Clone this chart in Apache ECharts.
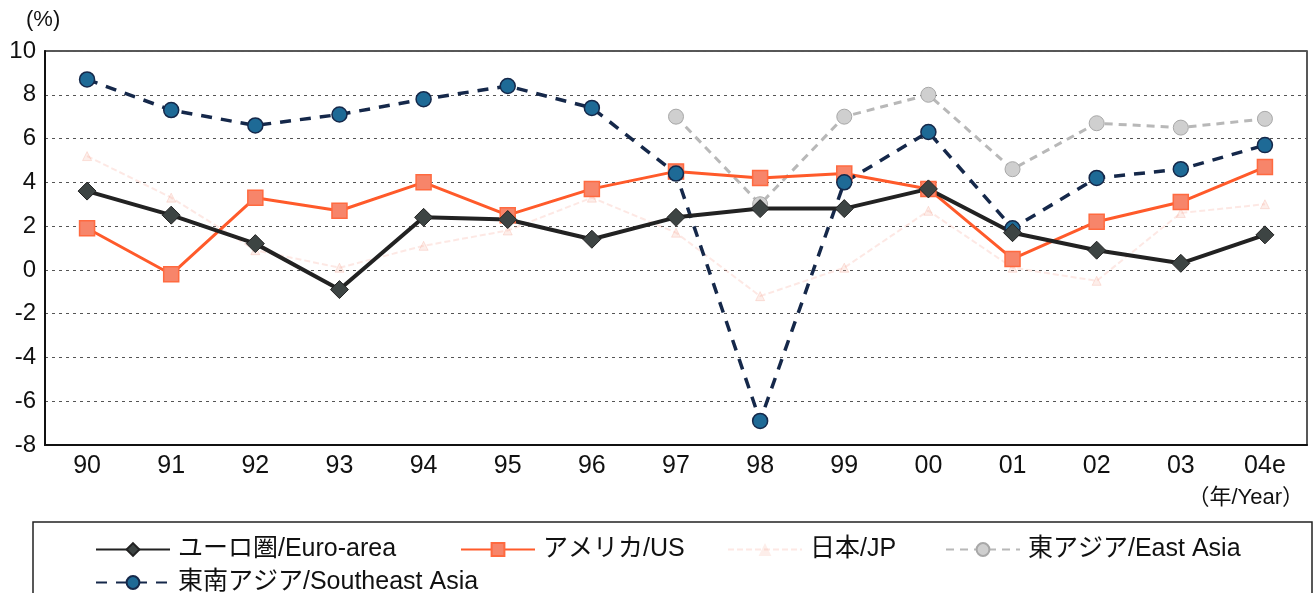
<!DOCTYPE html>
<html>
<head>
<meta charset="utf-8">
<script src="https://cdn.jsdelivr.net/npm/echarts@6/dist/echarts.min.js"></script>
<style>
html,body{margin:0;padding:0;background:#fff;}
#chart{width:1316px;height:593px;}
</style>
</head>
<body>
<div id="chart"></div>
<script>
var years = ['90','91','92','93','94','95','96','97','98','99','00','01','02','03','04e'];
var euroArea = [3.6, 2.5, 1.2, -0.9, 2.4, 2.3, 1.4, 2.4, 2.8, 2.8, 3.7, 1.7, 0.9, 0.3, 1.6];
var us = [1.9, -0.2, 3.3, 2.7, 4.0, 2.5, 3.7, 4.5, 4.2, 4.4, 3.7, 0.5, 2.2, 3.1, 4.7];
var japan = [5.2, 3.3, 0.9, 0.1, 1.1, 1.8, 3.3, 1.7, -1.2, 0.1, 2.7, 0.1, -0.5, 2.6, 3.0];
var eastAsia = [null, null, null, null, null, null, null, 7.0, 3.0, 7.0, 8.0, 4.6, 6.7, 6.5, 6.9];
var seAsia = [8.7, 7.3, 6.6, 7.1, 7.8, 8.4, 7.4, 4.4, -6.9, 4.0, 6.3, 1.9, 4.2, 4.6, 5.7];
var yTicks = {min: -8, max: 10, interval: 2};

var names = ['ユーロ圏/Euro-area', 'アメリカ/US', '日本/JP', '東アジア/East Asia', '東南アジア/Southeast Asia'];
var FONT = '"Liberation Sans", "Noto Sans CJK JP", sans-serif';

var chart = echarts.init(document.getElementById('chart'));

function legendAt(name, left, top) {
  return {
    data: [name], left: left, top: top, itemWidth: 74, itemHeight: 16, itemGap: 0,
    textStyle: {fontSize: 25, color: '#111', fontFamily: FONT, padding: [0, 0, 0, 3]},
    selectedMode: false
  };
}

var option = {
  animation: false,
  backgroundColor: '#fff',
  grid: {left: 45, right: 9, top: 51, bottom: 148, show: true, borderColor: '#222', borderWidth: 1.5},
  xAxis: {
    type: 'category', data: years, boundaryGap: true,
    axisLine: {onZero: false, lineStyle: {color: '#111', width: 2}},
    axisTick: {show: false},
    axisLabel: {fontSize: 25, color: '#111', fontFamily: FONT, margin: 9}
  },
  yAxis: {
    type: 'value', min: yTicks.min, max: yTicks.max, interval: yTicks.interval,
    axisLine: {show: true, lineStyle: {color: '#111', width: 2}},
    axisTick: {show: false},
    axisLabel: {fontSize: 24, color: '#111', fontFamily: FONT, margin: 9},
    splitLine: {show: true, lineStyle: {color: '#555', type: [3, 4], width: 1}}
  },
  legend: [
    legendAt(names[0], 90, 532),
    legendAt(names[1], 455, 532),
    legendAt(names[2], 722, 532),
    legendAt(names[3], 940, 532),
    legendAt(names[4], 90, 565)
  ],
  graphic: [
    {type: 'text', left: 26, top: 9, style: {text: '(%)', fontSize: 22, fill: '#111', fontFamily: FONT}},
    {type: 'text', right: 12, top: 487, style: {text: '（年/Year）', fontSize: 22, fill: '#111', fontFamily: FONT}},
    {type: 'rect', shape: {x: 33, y: 522, width: 1279, height: 90}, style: {fill: 'none', stroke: '#222', lineWidth: 1.5}, z: -1}
  ],
  series: [
    {
      name: names[2], type: 'line', data: japan, symbol: 'triangle', symbolSize: 9,
      lineStyle: {color: 'rgba(245,150,130,0.22)', width: 2, type: [6, 3]},
      itemStyle: {color: 'rgba(245,170,150,0.2)', borderColor: 'rgba(245,150,130,0.25)'}
    },
    {
      name: names[3], type: 'line', data: eastAsia, symbol: 'circle', symbolSize: 15,
      lineStyle: {color: '#b8b8b8', width: 3, type: [8, 6]},
      itemStyle: {color: '#cfcfcf', borderColor: '#a8a8a8', borderWidth: 1}
    },
    {
      name: names[1], type: 'line', data: us, symbol: 'rect', symbolSize: 15,
      lineStyle: {color: '#ff5a2a', width: 3},
      itemStyle: {color: '#f7856a', borderColor: '#ff6a40', borderWidth: 1.5}
    },
    {
      name: names[4], type: 'line', data: seAsia, symbol: 'circle', symbolSize: 15,
      lineStyle: {color: '#15284a', width: 3.5, type: [11, 9]},
      itemStyle: {color: '#1e6a96', borderColor: '#15284a', borderWidth: 1.5}
    },
    {
      name: names[0], type: 'line', data: euroArea, symbol: 'diamond', symbolSize: 18,
      lineStyle: {color: '#222', width: 4},
      itemStyle: {color: '#3d4443', borderColor: '#222', borderWidth: 1}
    }
  ]
};
chart.setOption(option);
</script>
</body>
</html>
